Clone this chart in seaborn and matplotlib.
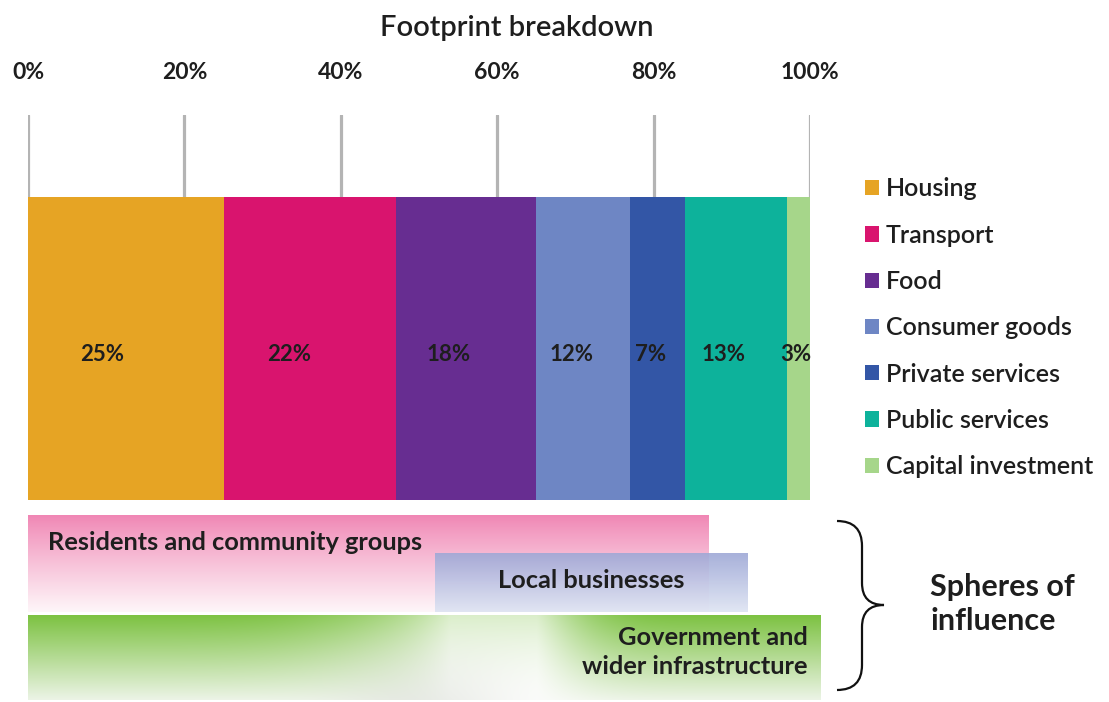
import numpy as np
import pandas as pd
import matplotlib
matplotlib.use("Agg")
import matplotlib.pyplot as plt
from matplotlib.patches import Patch, PathPatch
from matplotlib.path import Path
import seaborn as sns

# ---------------- data ----------------
categories = ["Housing", "Transport", "Food", "Consumer goods",
              "Private services", "Public services", "Capital investment"]
shares = [25, 22, 18, 12, 7, 13, 3]
colors = ["#e6a424", "#d9146e", "#672d91", "#6e86c4",
          "#3356a6", "#0db29b", "#a6d68a"]
tick_values = [0, 20, 40, 60, 80, 100]
tick_labels = ["0%", "20%", "40%", "60%", "80%", "100%"]

sphere_names = ["Residents and community groups", "Local businesses",
                "Government and\nwider infrastructure"]
sphere_start = [0, 52, 0]
sphere_end = [87, 92, 101.3]

title = "Footprint breakdown"
brace_label = "Spheres of\ninfluence"

# ---------------- style ----------------
sns.set_theme(style="white")
plt.rcParams["font.family"] = ["Lato", "DejaVu Sans"]
TXT = "#1e1e1e"

W, H = 1109, 702
fig = plt.figure(figsize=(W / 100, H / 100), dpi=100)
fig.patch.set_facecolor("white")

def fx(px):
    return px / W

def fy(py):
    return 1 - py / H

L_px, R_px = 28, 810
T_px, B_px = 115, 500
ax = fig.add_axes([fx(L_px), fy(B_px), fx(R_px - L_px), (B_px - T_px) / H])

df = pd.DataFrame({"category": categories, "share": shares})
df["cum"] = df["share"].cumsum()
df["row"] = "Footprint"
palette = dict(zip(categories, colors))

sns.barplot(data=df, x="cum", y="row", hue="category",
            hue_order=categories[::-1], palette=palette, dodge=False,
            orient="h", saturation=1, width=0.8, legend=False,
            linewidth=0, ax=ax)

# bar occupies lower part of axes; gridlines peek above
bar_frac = (B_px - 197) / (B_px - T_px)
span = 0.8 / bar_frac
ax.set_ylim(0.4, 0.4 - span)
ax.set_xlim(0, 100)
ax.set_axisbelow(True)
ax.grid(axis="x", color="#b4b4b4", linewidth=2.3)
ax.grid(axis="y", visible=False)
for s in ax.spines.values():
    s.set_visible(False)
ax.set_xlabel("")
ax.set_ylabel("")
ax.set_yticks([])
ax.xaxis.set_ticks_position("top")
ax.set_xticks(tick_values)
ax.set_xticklabels(tick_labels, fontsize=16.5, fontweight="bold", color=TXT)
ax.tick_params(axis="x", length=0, pad=23)

# segment value labels
for cum, val in zip(df["cum"], df["share"]):
    left = cum - val
    ax.text(left + 0.38 * val, 0.015, f"{val}%", ha="center", va="center",
            fontsize=16, fontweight="bold", color=TXT)

# legend
handles = [Patch(facecolor=c, edgecolor="none") for c in colors]
fig.legend(handles, categories, loc="upper left",
           bbox_to_anchor=(fx(852), fy(165)), frameon=False,
           prop={"size": 18, "weight": 600},
           handlelength=0.56, handleheight=0.56,
           handletextpad=0.3, labelspacing=0.93, borderpad=0,
           labelcolor=TXT)

# title
fig.text(fx(517), fy(28), title, ha="center", va="center",
         fontsize=21, fontweight=600, color=TXT)

# ---------------- spheres of influence ----------------
axs = fig.add_axes([fx(L_px), 0, fx(R_px - L_px), fy(505)])
axs.set_xlim(0, 100)
axs.set_ylim(702, 505)
axs.axis("off")

def vgrad(top, bot, n=100, alpha=1.0, gamma=1.0):
    t = np.linspace(0, 1, n)[:, None] ** gamma
    top = np.array(top) / 255.0
    bot = np.array(bot) / 255.0
    rgb = top[None, None, :] * (1 - t[..., None]) + bot[None, None, :] * t[..., None]
    a = np.full((n, 1, 1), alpha)
    return np.concatenate([rgb, a], axis=2)

# pink box
img = vgrad((240, 134, 180), (254, 246, 249), gamma=0.9)
axs.imshow(img, extent=(sphere_start[0], sphere_end[0], 612, 515),
           aspect="auto", interpolation="bilinear", zorder=1)
# blue box
img = vgrad((158, 168, 214), (222, 228, 243), alpha=0.9)
axs.imshow(img, extent=(sphere_start[1], sphere_end[1], 612, 553),
           aspect="auto", interpolation="bilinear", zorder=2)

# green box with light haze in the middle
nx, ny = 400, 90
xs = np.linspace(sphere_start[2], sphere_end[2], nx)[None, :]
t = np.linspace(0, 1, ny)[:, None]
green_top = np.array([125, 194, 66]) / 255.0
green_bot = np.array([236, 244, 230]) / 255.0
base = green_top * (1 - t[..., None]) + green_bot * t[..., None]
base = np.broadcast_to(base, (ny, nx, 3)).copy()
haze = (np.exp(-((xs - 61) / 9.5) ** 2) * 0.9
        + np.exp(-((xs - 52) / 15.0) ** 2) * 0.45)
haze = np.clip(haze, 0, 0.96)
haze = np.broadcast_to(haze, (ny, nx)) * (0.75 + 0.25 * t)
white = np.ones(3)
rgb = base * (1 - haze[..., None]) + white * haze[..., None]
gray = (np.exp(-((xs - 50) / 12.0) ** 2) * (t ** 1.2) * 0.4)
gray_c = np.array([205, 210, 200]) / 255.0
rgb = rgb * (1 - gray[..., None]) + gray_c * gray[..., None]
im = axs.imshow(rgb, extent=(sphere_start[2], sphere_end[2], 700, 615),
                aspect="auto", interpolation="bilinear", zorder=1)
im.set_clip_on(False)

axs.text(2.6, 543, sphere_names[0], ha="left", va="center",
         fontsize=18.3, fontweight="bold", color=TXT, zorder=5)
axs.text(84, 580, sphere_names[1], ha="right", va="center",
         fontsize=18.3, fontweight="bold", color=TXT, zorder=5)
axs.text(99.7, 652, sphere_names[2], ha="right", va="center",
         fontsize=18.3, fontweight="bold", color=TXT, linespacing=1.3,
         zorder=5, clip_on=False)

# brace + label in pixel overlay
axp = fig.add_axes([0, 0, 1, 1])
axp.set_xlim(0, W)
axp.set_ylim(H, 0)
axp.axis("off")
xb0, xb1, xtip = 837, 862, 884
y0, ymid, y1 = 521, 605, 690
verts = [(xb0, y0), (xb1, y0), (xb1, y0 + 25),
         (xb1, ymid - 22),
         (xb1, ymid), (xtip, ymid),
         (xb1, ymid), (xb1, ymid + 22),
         (xb1, y1 - 25),
         (xb1, y1), (xb0, y1)]
codes = [Path.MOVETO, Path.CURVE3, Path.CURVE3,
         Path.LINETO,
         Path.CURVE3, Path.CURVE3,
         Path.CURVE3, Path.CURVE3,
         Path.LINETO,
         Path.CURVE3, Path.CURVE3]
axp.add_patch(PathPatch(Path(verts, codes), facecolor="none",
                        edgecolor="#111111", linewidth=1.6))
axp.text(930, 604, brace_label, ha="left", va="center", fontsize=22,
         fontweight="bold", color=TXT, linespacing=1.3)

fig.savefig("out.png", dpi=100, facecolor="white")
